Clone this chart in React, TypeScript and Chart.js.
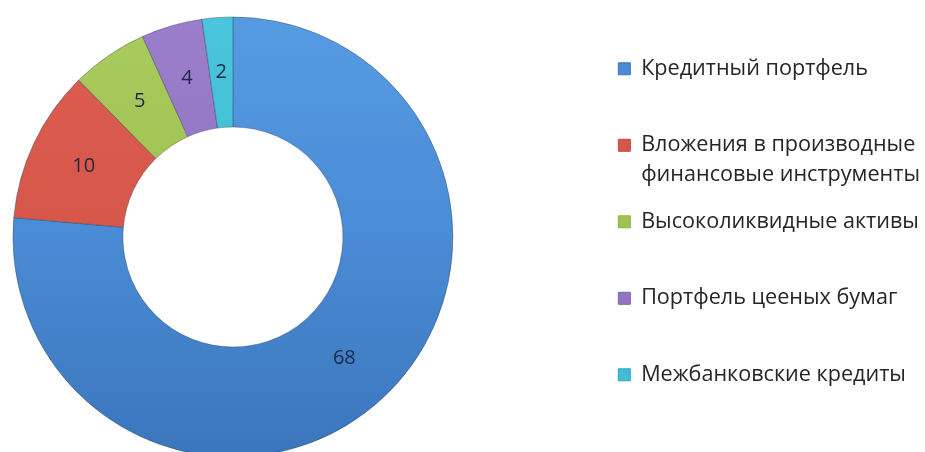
import React, { useEffect, useRef } from 'react';
import { Chart, registerables } from 'chart.js';

Chart.register(...registerables);

// ---- data ----
const categories: (string | string[])[] = [
  'Кредитный портфель',
  ['Вложения в производные', 'финансовые инструменты'],
  'Высоколиквидные активы',
  'Портфель цееных бумаг',
  'Межбанковские кредиты',
];
const values: number[] = [68, 10, 5, 4, 2];

// ---- styles ----
const colorsTop = ['#559BE2', '#DC5D51', '#A9CA5C', '#9A7DCB', '#4AC5DB'];
const colorsMid = ['#4A8BD5', '#D6564A', '#A0C253', '#9174C2', '#40BDD4'];
const colorsBottom = ['#3B76BC', '#C24A3F', '#8FB243', '#7F63AE', '#33A8BF'];

const FONT = '"Open Sans", "DejaVu Sans", sans-serif';
const CANVAS_W = 1066;
const CANVAS_H = 452;
const SHIFT_X = 136;

const sliceLabels = {
  id: 'sliceLabels',
  afterDatasetsDraw(chart: any) {
    const { ctx } = chart;
    const meta = chart.getDatasetMeta(0);
    ctx.save();
    ctx.font = `20px ${FONT}`;
    ctx.fillStyle = '#1b2944';
    ctx.textAlign = 'center';
    ctx.textBaseline = 'middle';
    meta.data.forEach((arc: any, i: number) => {
      const p = arc.tooltipPosition(false);
      ctx.fillText(String(values[i]), p.x, p.y);
    });
    ctx.restore();
  },
};

export default function App() {
  const ref = useRef<HTMLCanvasElement>(null);

  useEffect(() => {
    const canvas = ref.current!;
    const chart = new Chart(canvas, {
      type: 'doughnut',
      data: {
        labels: categories as any,
        datasets: [
          {
            data: values,
            backgroundColor: (c: any) => {
              const i = c.dataIndex;
              const area = c.chart.chartArea;
              if (!area) return colorsMid[i];
              const g = c.chart.ctx.createLinearGradient(0, area.top, 0, area.bottom);
              g.addColorStop(0, colorsTop[i]);
              g.addColorStop(0.5, colorsMid[i]);
              g.addColorStop(1, colorsBottom[i]);
              return g;
            },
            borderColor: 'rgba(30, 45, 70, 0.35)',
            borderWidth: 1,
            radius: 220,
            cutout: '50%',
          } as any,
        ],
      },
      options: {
        responsive: false,
        animation: false,
        devicePixelRatio: 1,
        events: [],
        layout: { padding: { left: 0, right: 0, top: 22, bottom: 0 } },
        plugins: {
          tooltip: { enabled: false },
          legend: {
            position: 'right',
            align: 'start',
            title: {
              display: true,
              text: '',
              font: { size: 10, lineHeight: 1 },
              padding: { top: 9.5, bottom: 0 },
            },
            labels: {
              boxWidth: 12,
              boxHeight: 12,
              padding: 16.5,
              color: '#262626',
              font: { family: FONT, size: 21.6, lineHeight: '30px' } as any,
              generateLabels: (ch: any) => {
                const base = (Chart as any).overrides.doughnut.plugins.legend.labels.generateLabels(ch);
                return base.map((item: any, i: number) => {
                  const lines = Array.isArray(categories[i])
                    ? [...(categories[i] as string[])]
                    : [categories[i] as string];
                  while (lines.length < 2) lines.push('');
                  return {
                    ...item,
                    text: lines,
                    fillStyle: colorsMid[i],
                    strokeStyle: colorsBottom[i],
                    lineWidth: 1,
                  };
                });
              },
            },
          },
        },
      } as any,
      plugins: [sliceLabels],
    });
    return () => chart.destroy();
  }, []);

  return (
    <div
      style={{
        position: 'absolute',
        left: 0,
        top: 0,
        width: 925,
        height: 452,
        overflow: 'hidden',
        background: '#ffffff',
      }}
    >
      <canvas
        ref={ref}
        width={CANVAS_W}
        height={CANVAS_H}
        style={{ position: 'absolute', left: -SHIFT_X, top: 0, display: 'block', width: CANVAS_W, height: CANVAS_H }}
      />
    </div>
  );
}
